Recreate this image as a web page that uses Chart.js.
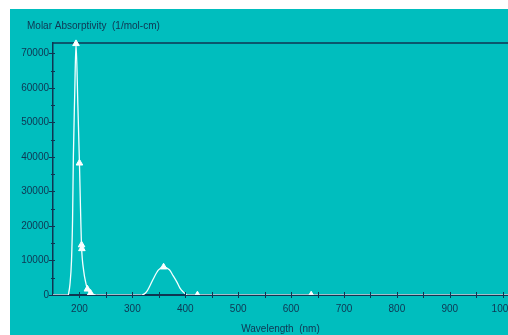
<!DOCTYPE html>
<html lang="en">
<head>
    <meta charset="UTF-8">
    <title>Molar Absorptivity Spectrum</title>
    <script src="https://cdn.jsdelivr.net/npm/chart.js"></script>
    <style>
        body { margin: 0; background: #fff; }
    </style>
</head>
<body>
    <canvas id="spectrum" width="508" height="335"></canvas>
    <script>
        // measured points (triangles)
        const markerWl  = [193.5, 200, 204, 204.6, 215, 221, 359, 423, 638];
        const markerAbs = [72800, 38200, 14500, 13400, 1700, 500, 8100, 0, 0];

        // traced curve, first band
        const peak1Wl  = [179, 182, 185, 187, 188.5, 191, 193.5, 197, 200, 202, 204, 208, 212, 215, 221, 226, 232];
        const peak1Abs = [0, 3000, 10000, 22000, 40000, 58000, 72800, 55000, 38200, 25000, 14000, 7000, 3500, 1700, 500, 150, 0];

        // traced curve, second band
        const peak2Wl  = [317, 322, 327, 333, 340, 349, 359, 370, 377, 384, 390, 396, 403];
        const peak2Abs = [0, 250, 950, 2600, 4800, 7200, 8100, 7300, 5600, 3800, 2000, 900, 0];

        // flat baseline pieces between the bands
        const baseWl  = [150, 179, null, 232, 317, null, 403, 1010];

        const xTicks = [200, 300, 400, 500, 600, 700, 800, 900, 1000];
        const yTicks = [0, 10000, 20000, 30000, 40000, 50000, 60000, 70000];

        const teal = '#00bebe';
        const navy = '#0f3552';
        const fontFamily = '"Liberation Sans", Arial, sans-serif';

        const toPoints = (xs, ys) => xs.map((x, i) => ({ x: x, y: ys[i] }));
        const basePoints = baseWl.map(x => x === null ? { x: NaN, y: null } : { x: x, y: 0 });

        const decor = {
            id: 'decor',
            beforeDraw(chart) {
                const c = chart.ctx;
                c.save();
                c.fillStyle = teal;
                c.fillRect(10, 9, chart.width - 10, chart.height - 9);
                c.restore();
            },
            beforeDatasetsDraw(chart) {
                const c = chart.ctx;
                const a = chart.chartArea;
                c.save();
                c.strokeStyle = navy;
                c.lineWidth = 1.5;
                c.beginPath();
                c.moveTo(a.left, a.top);
                c.lineTo(chart.width, a.top);
                c.stroke();
                c.restore();
            },
            afterDatasetsDraw(chart) {
                const c = chart.ctx;
                const a = chart.chartArea;
                const xs = chart.scales.x, ys = chart.scales.y;
                c.save();
                c.strokeStyle = navy;
                c.lineWidth = 1;
                c.beginPath();
                for (let v = 0; v <= 70000; v += 5000) {
                    const y = Math.round(ys.getPixelForValue(v)) + 0.5;
                    const major = v % 10000 === 0;
                    c.moveTo(a.left - (major ? 4 : 2), y);
                    c.lineTo(a.left + 2, y);
                }
                for (let v = 200; v <= 1000; v += 50) {
                    const x = Math.round(xs.getPixelForValue(v)) + 0.5;
                    c.moveTo(x, a.bottom - 3);
                    c.lineTo(x, a.bottom + 3);
                }
                c.stroke();
                c.font = '10px ' + fontFamily;
                c.fillStyle = navy;
                c.textBaseline = 'alphabetic';
                c.fillText('Molar Absorptivity  (1/mol-cm)', 27, 28.5);
                c.restore();
            }
        };

        new Chart(document.getElementById('spectrum'), {
            type: 'line',
            data: {
                datasets: [
                    {
                        data: basePoints,
                        borderColor: 'rgba(235,255,255,0.9)',
                        borderWidth: 1.5,
                        pointRadius: 0,
                        spanGaps: false
                    },
                    {
                        data: toPoints(peak1Wl, peak1Abs),
                        borderColor: '#f4ffff',
                        borderWidth: 1.3,
                        pointRadius: 0,
                        cubicInterpolationMode: 'monotone'
                    },
                    {
                        data: toPoints(peak2Wl, peak2Abs),
                        borderColor: '#f4ffff',
                        borderWidth: 1.3,
                        pointRadius: 0,
                        cubicInterpolationMode: 'monotone'
                    },
                    {
                        data: toPoints(markerWl, markerAbs),
                        showLine: false,
                        pointStyle: 'triangle',
                        pointRadius: 3.8,
                        pointBackgroundColor: '#ffffff',
                        pointBorderColor: '#ffffff',
                        pointBorderWidth: 1,
                        clip: { top: 8, left: 0, right: 0, bottom: 0 }
                    }
                ]
            },
            options: {
                responsive: false,
                animation: false,
                layout: { autoPadding: false, padding: { top: 43, left: 0, right: 0, bottom: 0 } },
                plugins: {
                    legend: { display: false },
                    tooltip: { enabled: false }
                },
                scales: {
                    x: {
                        type: 'linear',
                        min: 150,
                        max: 1010,
                        afterBuildTicks: s => { s.ticks = xTicks.map(v => ({ value: v })); },
                        afterFit: s => { s.height = 40; s.paddingLeft = 0; s.paddingRight = 0; },
                        grid: { display: false, drawTicks: false },
                        border: { display: true, color: navy, width: 2 },
                        ticks: {
                            color: navy,
                            font: { family: fontFamily, size: 10 },
                            padding: 8,
                            autoSkip: false,
                            maxRotation: 0,
                            callback: v => String(v)
                        },
                        title: {
                            display: true,
                            text: 'Wavelength  (nm)',
                            color: navy,
                            font: { family: fontFamily, size: 10 },
                            padding: { top: 3, bottom: 0 }
                        }
                    },
                    y: {
                        min: 0,
                        max: 73000,
                        afterBuildTicks: s => { s.ticks = yTicks.map(v => ({ value: v })); },
                        afterFit: s => { s.width = 53; s.paddingTop = 0; s.paddingBottom = 0; },
                        grid: { display: false, drawTicks: false },
                        border: { display: true, color: navy, width: 1.5 },
                        ticks: {
                            color: navy,
                            font: { family: fontFamily, size: 10 },
                            padding: 4,
                            callback: v => String(v)
                        }
                    }
                }
            },
            plugins: [decor]
        });
    </script>
</body>
</html>
